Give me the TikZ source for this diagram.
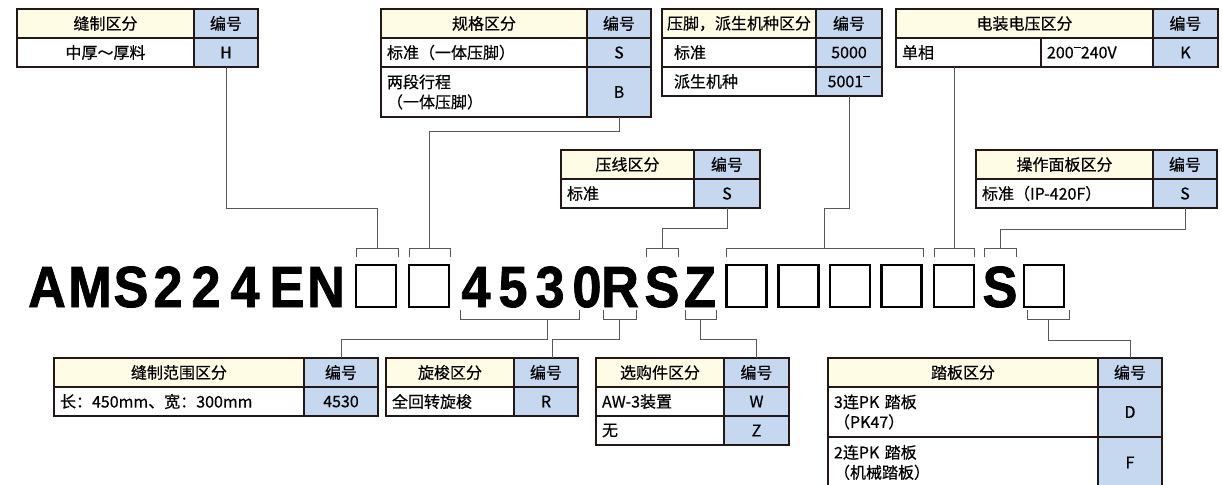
\documentclass[tikz,border=0pt]{standalone}
\usepackage{fontspec}
\usepackage{tikz}
\usetikzlibrary{positioning}
\usepackage{xcolor}
\newfontfamily\cjk{Noto Sans CJK SC}[FakeBold=0.5]
\newfontfamily\codefont{Liberation Sans}[BoldFeatures={FakeBold=1.5}]
\definecolor{hdr}{HTML}{FFFCE6}
\definecolor{numc}{HTML}{C5D8F0}
\definecolor{tline}{HTML}{231815}
\definecolor{gline}{HTML}{5A5656}
\newcommand{\hibar}{\raisebox{.62em}{\rule{.45em}{.07em}}}

\begin{document}
\begin{tikzpicture}[x=1pt,y=-1pt]
  \tikzstyle{cell}=[draw=tline, line width=1.1pt, inner sep=0pt, outer sep=0pt, anchor=north west, minimum height=29pt, font=\cjk\fontsize{16}{20}\selectfont]
  \tikzstyle{hcell}=[cell, fill=hdr]
  \tikzstyle{ncell}=[cell, fill=numc]
  \tikzstyle{lcell}=[cell, align=left, inner xsep=6pt]
  \tikzstyle{conn}=[draw=gline, line width=0.9pt]
  \tikzstyle{codebox}=[draw=black, line width=2.4pt, minimum width=40pt, minimum height=42pt, inner sep=0pt]
  \tikzstyle{chr}=[inner sep=0pt, anchor=base, xscale=0.9, font=\codefont\bfseries\fontsize{58}{60}\selectfont]
  \useasboundingbox (0,0) rectangle (1222,484);
  % \draw [step=50, blue!20] (0,0) grid (1222,484);

  % upper tables
  \node [hcell, minimum width=177pt] (t1h) at (17,9) {缝制区分};
  \node [ncell, minimum width=64pt, right=0pt of t1h] (t1hn) {编号};
  \node [cell, minimum width=177pt] (t1a) at (t1h.south west) {中厚～厚料};
  \node [ncell, minimum width=64pt, right=0pt of t1a] (t1an) {H};

  \node [hcell, minimum width=206pt] (t2h) at (381,9) {规格区分};
  \node [ncell, minimum width=64pt, right=0pt of t2h] (t2hn) {编号};
  \node [lcell, text width=194pt] (t2a) at (t2h.south west) {标准（一体压脚）};
  \node [ncell, minimum width=64pt, right=0pt of t2a] (t2an) {S};
  \node [lcell, text width=194pt, minimum height=50pt] (t2b) at (t2a.south west) {两段行程\\（一体压脚）};
  \node [ncell, minimum width=64pt, minimum height=50pt, right=0pt of t2b] (t2bn) {B};

  \node [hcell, minimum width=154pt] (t3h) at (662,9) {压脚，派生机种区分};
  \node [ncell, minimum width=66pt, right=0pt of t3h] (t3hn) {编号};
  \node [lcell, text width=130pt, inner xsep=12pt] (t3a) at (t3h.south west) {标准};
  \node [ncell, minimum width=66pt, right=0pt of t3a] (t3an) {5000};
  \node [lcell, text width=130pt, inner xsep=12pt] (t3b) at (t3a.south west) {派生机种};
  \node [ncell, minimum width=66pt, right=0pt of t3b] (t3bn) {5001\hibar};

  \node [hcell, minimum width=257pt] (t4h) at (896,9) {电装电压区分};
  \node [ncell, minimum width=65pt, right=0pt of t4h] (t4hn) {编号};
  \node [lcell, text width=133pt] (t4a) at (t4h.south west) {单相};
  \node [lcell, text width=100pt, right=0pt of t4a] (t4b) {200\hibar 240V};
  \node [ncell, minimum width=65pt, right=0pt of t4b] (t4bn) {K};

  \node [hcell, minimum width=133pt] (t5h) at (561,150) {压线区分};
  \node [ncell, minimum width=66pt, right=0pt of t5h] (t5hn) {编号};
  \node [lcell, text width=121pt] (t5a) at (t5h.south west) {标准};
  \node [ncell, minimum width=66pt, right=0pt of t5a] (t5an) {S};

  \node [hcell, minimum width=177pt] (t6h) at (976,150) {操作面板区分};
  \node [ncell, minimum width=64pt, right=0pt of t6h] (t6hn) {编号};
  \node [lcell, text width=165pt] (t6a) at (t6h.south west) {标准（IP-420F）};
  \node [ncell, minimum width=64pt, right=0pt of t6a] (t6an) {S};

  % lower tables
  \node [hcell, minimum width=250pt] (t7h) at (54,358) {缝制范围区分};
  \node [ncell, minimum width=74pt, right=0pt of t7h] (t7hn) {编号};
  \node [lcell, text width=238pt] (t7a) at (t7h.south west) {长：450mm、宽：300mm};
  \node [ncell, minimum width=74pt, right=0pt of t7a] (t7an) {4530};

  \node [hcell, minimum width=128pt] (t8h) at (386,358) {旋梭区分};
  \node [ncell, minimum width=64pt, right=0pt of t8h] (t8hn) {编号};
  \node [lcell, text width=116pt] (t8a) at (t8h.south west) {全回转旋梭};
  \node [ncell, minimum width=64pt, right=0pt of t8a] (t8an) {R};

  \node [hcell, minimum width=128pt] (t9h) at (596,358) {选购件区分};
  \node [ncell, minimum width=65pt, right=0pt of t9h] (t9hn) {编号};
  \node [lcell, text width=116pt] (t9a) at (t9h.south west) {AW-3装置};
  \node [ncell, minimum width=65pt, right=0pt of t9a] (t9an) {W};
  \node [lcell, text width=116pt] (t9b) at (t9a.south west) {无};
  \node [ncell, minimum width=65pt, right=0pt of t9b] (t9bn) {Z};

  \node [hcell, minimum width=270pt] (t10h) at (828,358) {踏板区分};
  \node [ncell, minimum width=64pt, right=0pt of t10h] (t10hn) {编号};
  \node [lcell, text width=258pt, minimum height=50pt] (t10a) at (t10h.south west) {3连PK 踏板\\（PK47）};
  \node [ncell, minimum width=64pt, minimum height=50pt, right=0pt of t10a] (t10an) {D};
  \node [lcell, text width=258pt, minimum height=51pt] (t10b) at (t10a.south west) {2连PK 踏板\\（机械踏板）};
  \node [ncell, minimum width=64pt, minimum height=51pt, right=0pt of t10b] (t10bn) {F};

  % model code
  \node [chr] (cA) at (47,307) {A};
  \node [chr] (cM) at (90,307) {M};
  \node [chr] (cS) at (131,307) {S};
  \node [chr] (c2a) at (168,307) {2};
  \node [chr] (c2b) at (206,307) {2};
  \node [chr] (c4) at (245,307) {4};
  \node [chr] (cE) at (287,307) {E};
  \node [chr] (cN) at (326,307) {N};
  \node [codebox] (bx1) at (376,286) {};
  \node [codebox] (bx2) at (429,286) {};
  \node [chr] (d4) at (476,307) {4};
  \node [chr] (d5) at (513,307) {5};
  \node [chr] (d3) at (550,307) {3};
  \node [chr] (d0) at (587,307) {0};
  \node [chr] (cR) at (620,307) {R};
  \node [chr] (cS2) at (662,307) {S};
  \node [chr] (cZ) at (700,307) {Z};
  \node [codebox] (bx3) at (746.5,286) {};
  \node [codebox] (bx4) at (798.5,286) {};
  \node [codebox] (bx5) at (850,286) {};
  \node [codebox] (bx6) at (901.5,286) {};
  \node [codebox] (bx7) at (954,286) {};
  \node [chr] (cS3) at (1000,307) {S};
  \node [codebox] (bx8) at (1044,286) {};

  % brackets
  \draw [conn] (356,257) |- (398,248) -- (398,257);
  \draw [conn] (409,257) |- (450,248) -- (450,257);
  \draw [conn] (646,257) |- (678,248) -- (678,257);
  \draw [conn] (726,257) |- (923,248) -- (923,257);
  \draw [conn] (934,257) |- (974,248) -- (974,257);
  \draw [conn] (984,257) |- (1016,248) -- (1016,257);
  \draw [conn] (460,310) |- (579,319) -- (579,310);
  \draw [conn] (603,310) |- (636,319) -- (636,310);
  \draw [conn] (685,310) |- (716,319) -- (716,310);
  \draw [conn] (1027,310) |- (1069,319) -- (1069,310);
  \coordinate (kA) at (377,248);
  \coordinate (kB) at (429.5,248);
  \coordinate (kS) at (662,248);
  \coordinate (kP) at (824.5,248);
  \coordinate (kV) at (954,248);
  \coordinate (kO) at (1000,248);
  \coordinate (mD) at (547,319);
  \coordinate (mR) at (619.5,319);
  \coordinate (mZ) at (700.5,319);
  \coordinate (mF) at (1048,319);

  \draw [conn] (t1an.south) -- ++(0,141) -| (kA);
  \draw [conn] (t2bn.south) -- ++(0,14) -| (kB);
  \draw [conn] (t5an.south) -- ++(0,20) -| (kS);
  \draw [conn] (t3bn.south) -- ++(0,112) -| (kP);
  \draw [conn] (kV |- t4a.south) -- (kV);
  \draw [conn] (t6an.south) -- ++(0,21) -| (kO);
  \draw [conn] (mD) -- ++(0,20) -| (t7hn.north);
  \draw [conn] (mR) -- ++(0,20) -| ([xshift=6pt]t8hn.north);
  \draw [conn] (mZ) -- ++(0,20) -| (t9hn.north);
  \draw [conn] (mF) -- ++(0,21) -| (t10hn.north);
\end{tikzpicture}
\end{document}
